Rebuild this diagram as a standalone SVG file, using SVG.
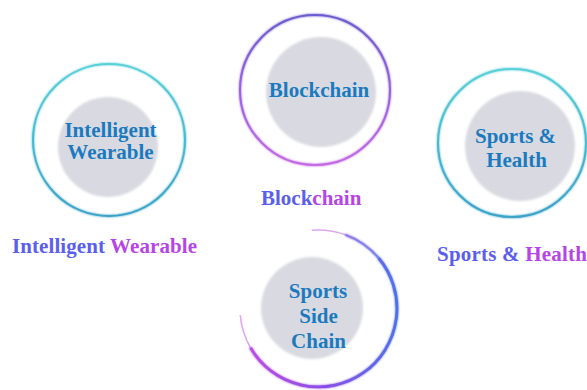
<svg xmlns="http://www.w3.org/2000/svg" width="587" height="390" viewBox="0 0 587 390">
<defs>
  <style>
    .inner{font-family:"Liberation Serif","Times New Roman",serif;font-weight:bold;font-size:21px;fill:#1b7abf;text-anchor:middle}
    .lbl{font-family:"Liberation Serif","Times New Roman",serif;font-weight:bold;font-size:21px}
    .b{fill:#5a5ef0}
    .p{fill:#b545e6}
    .core{fill:#d9dae1}
  </style>
  <filter id="soft" x="-20%" y="-20%" width="140%" height="140%">
    <feGaussianBlur stdDeviation="1.2"/>
  </filter>
  <filter id="glow" x="-20%" y="-20%" width="140%" height="140%">
    <feGaussianBlur stdDeviation="1.2" result="b"/>
    <feMerge><feMergeNode in="b"/><feMergeNode in="SourceGraphic"/></feMerge>
  </filter>
  <linearGradient id="teal" x1="0" y1="0" x2="0" y2="1">
    <stop offset="0" stop-color="#5ad0d8"/>
    <stop offset="1" stop-color="#3aa2c8"/>
  </linearGradient>
  <linearGradient id="bc" x1="0" y1="0" x2="0" y2="1">
    <stop offset="0" stop-color="#6c5ccf"/>
    <stop offset="1" stop-color="#c46ae6"/>
  </linearGradient>
  <linearGradient id="sc" gradientUnits="userSpaceOnUse" x1="240" y1="300" x2="397" y2="300">
    <stop offset="0" stop-color="#c24ee2"/>
    <stop offset="0.55" stop-color="#8a4ee6"/>
    <stop offset="1" stop-color="#4f72e8"/>
  </linearGradient>
</defs>
<rect width="587" height="390" fill="#ffffff"/>

<g id="connectors"></g>

<g id="intelligent-wearable">
  <circle cx="109" cy="140" r="76" fill="none" stroke="url(#teal)" stroke-width="2" filter="url(#glow)"/>
  <circle cx="108" cy="147" r="50" class="core" filter="url(#soft)"/>
  <text class="inner" x="110.5" y="137" font-size="20">Intelligent</text>
  <text class="inner" x="110.5" y="159" font-size="20">Wearable</text>
  <text class="lbl" x="12" y="253" textLength="185"><tspan class="b">Intelligent </tspan><tspan class="p">Wearable</tspan></text>
</g>

<g id="blockchain">
  <circle cx="315" cy="90" r="75" fill="none" stroke="url(#bc)" stroke-width="2" filter="url(#glow)"/>
  <circle cx="321" cy="92" r="55" class="core" filter="url(#soft)"/>
  <text class="inner" x="319" y="97">Blockchain</text>
  <text class="lbl" x="261" y="205"><tspan class="b">Block</tspan><tspan class="p">chain</tspan></text>
</g>

<g id="sports-health">
  <circle cx="512" cy="143" r="74" fill="none" stroke="url(#teal)" stroke-width="2" filter="url(#glow)"/>
  <circle cx="520" cy="146" r="55" class="core" filter="url(#soft)"/>
  <text class="inner" x="515.5" y="143">Sports &amp;</text>
  <text class="inner" x="516.5" y="167">Health</text>
  <text class="lbl" x="437" y="261" textLength="150"><tspan class="b">Sports &amp; </tspan><tspan class="p">Health</tspan></text>
</g>

<g id="sports-side-chain">
  <path d="M311.7 230.3 A78.5 78.5 0 0 1 345.3 234.7" fill="none" stroke="#c24ee2" stroke-width="1.5" opacity="0.5"/>
  <path d="M345.3 234.7 A78.5 78.5 0 0 1 378.6 258" fill="none" stroke="url(#sc)" stroke-width="2.2" opacity="0.8" filter="url(#glow)"/>
  <path d="M378.6 258 A78.5 78.5 0 1 1 250.5 347.75" fill="none" stroke="url(#sc)" stroke-width="2.8" filter="url(#glow)"/>
  <path d="M250.5 347.75 A78.5 78.5 0 0 1 240.3 315.3" fill="none" stroke="#c24ee2" stroke-width="1.6" opacity="0.5"/>
  <circle cx="312" cy="308" r="51" class="core" filter="url(#soft)"/>
  <text class="inner" x="318" y="298">Sports</text>
  <text class="inner" x="318.5" y="323">Side</text>
  <text class="inner" x="318.5" y="348">Chain</text>
</g>
</svg>
